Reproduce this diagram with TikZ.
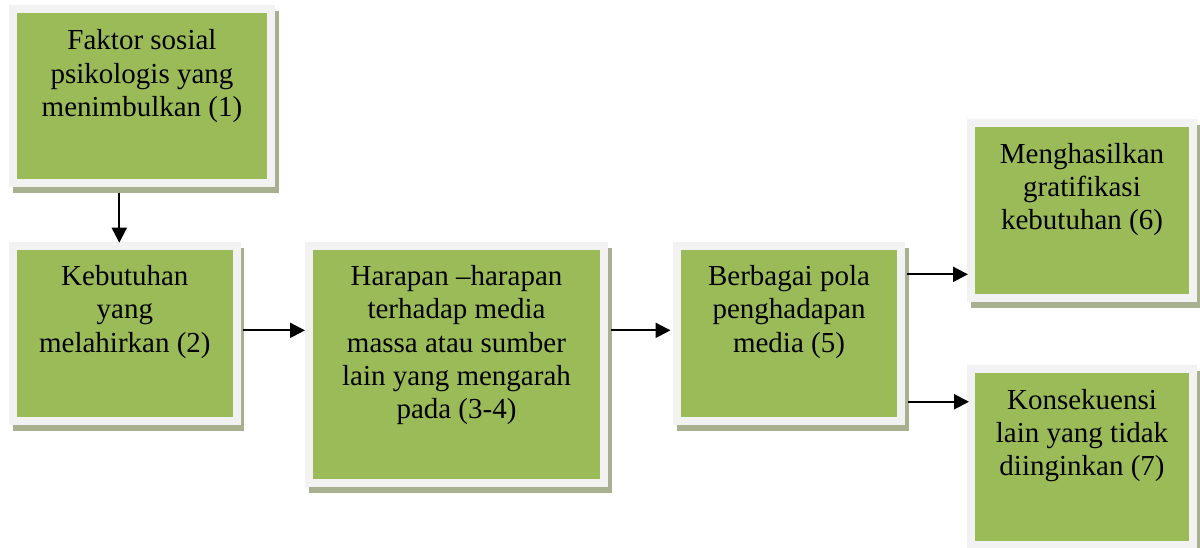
\documentclass[tikz,border=0pt]{standalone}
\usepackage{fontspec}
\setmainfont{Liberation Serif}
\usetikzlibrary{arrows.meta,backgrounds}
\definecolor{greenc}{HTML}{9BBB59}
\definecolor{framec}{HTML}{F2F2F2}
\definecolor{shadowc}{HTML}{A8B08F}
\tikzset{
  box/.style={draw=framec, fill=greenc, line width=8pt, inner sep=0pt},
  txt/.style={anchor=base, inner sep=0pt, font=\fontsize{29}{33.3}\selectfont},
  arr/.style={line width=2pt, -{Triangle[length=15pt,width=15pt]}}
}
\newcommand\lines[1]{\setlength{\tabcolsep}{0pt}\begin{tabular}[t]{c}#1\end{tabular}}
\begin{document}
\begin{tikzpicture}[x=1pt,y=-1pt]
\useasboundingbox (0,0) rectangle (1200,548);
\node[box, minimum width=258pt, minimum height=174pt] (b1) at (142,96) {};
\node[box, minimum width=223.7pt, minimum height=175.3pt] (b2) at (124.85,333.35) {};
\node[box, minimum width=295pt, minimum height=237pt] (b3) at (456.5,364.2) {};
\node[box, minimum width=224pt, minimum height=175.3pt] (b4) at (789,333.35) {};
\node[box, minimum width=222pt, minimum height=174.4pt] (b5) at (1082,210.5) {};
\node[box, minimum width=222pt, minimum height=176pt] (b6) at (1082,457) {};
\begin{scope}[on background layer]
\foreach \n in {b1,b2,b3,b4,b5,b6}
  \fill[shadowc] ([shift={(3.5pt,-6pt)}]\n.north west) rectangle ([shift={(3.5pt,-6pt)}]\n.south east);
\end{scope}
\node[txt] (t1) at ([yshift=-45pt]b1.north) {\lines{Faktor sosial\\psikologis yang\\menimbulkan (1)}};
\node[txt] (t2) at ([yshift=-44pt]b2.north) {\lines{Kebutuhan\\yang\\melahirkan (2)}};
\node[txt] (t3) at ([yshift=-44pt]b3.north) {\lines{Harapan –harapan\\terhadap media\\massa atau sumber\\lain yang mengarah\\pada (3-4)}};
\node[txt] (t4) at ([yshift=-44pt]b4.north) {\lines{Berbagai pola\\penghadapan\\media (5)}};
\node[txt] (t5) at ([yshift=-44pt]b5.north) {\lines{Menghasilkan\\gratifikasi\\kebutuhan (6)}};
\node[txt] (t6) at ([yshift=-44pt]b6.north) {\lines{Konsekuensi\\lain yang tidak\\diinginkan (7)}};
\draw[arr, shorten >=5pt] ([xshift=-22.7pt,yshift=-6pt]b1.south) -- ([xshift=-22.7pt,yshift=-6pt]b1.south |- b2.north);
\draw[arr, shorten >=2pt] ([xshift=2pt,yshift=3pt]b2.east) -- ([xshift=2pt,yshift=3pt]b2.east -| b3.west);
\draw[arr, shorten >=2.5pt] ([xshift=3pt,yshift=3pt]b3.east |- b4.east) -- ([yshift=3pt]b4.west);
\draw[arr, shorten >=1pt] ([xshift=2pt,yshift=59pt]b4.east) -- ([xshift=2pt,yshift=59pt]b4.east -| b5.west);
\draw[arr, shorten >=1pt] ([xshift=3pt,yshift=-68.4pt]b4.east) -- ([xshift=3pt,yshift=-68.4pt]b4.east -| b6.west);
\end{tikzpicture}
\end{document}
